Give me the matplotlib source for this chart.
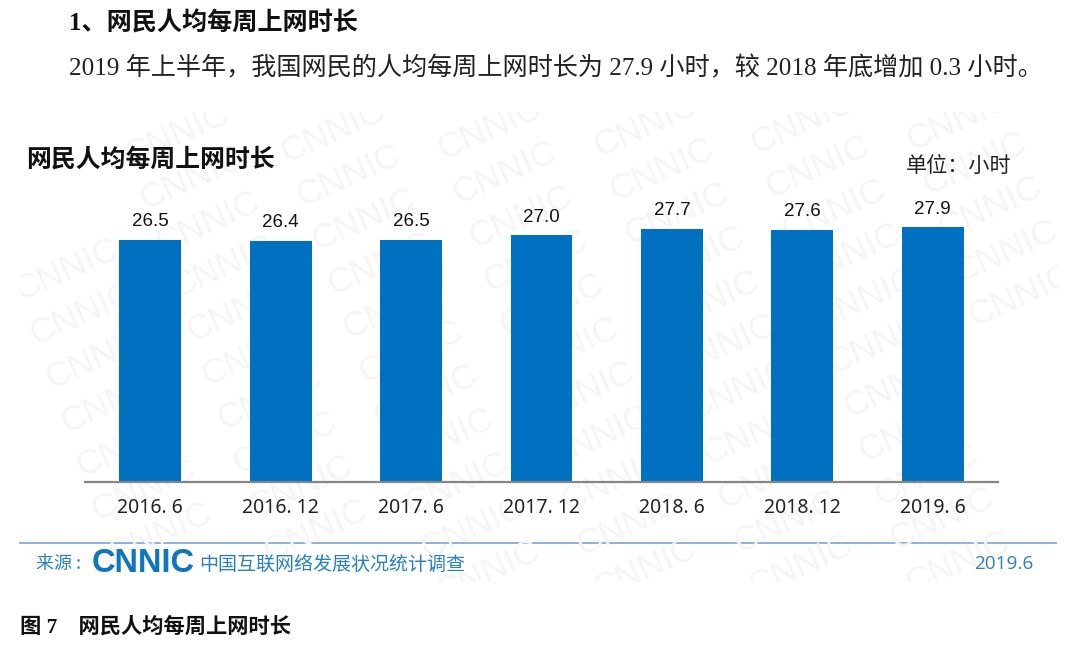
import matplotlib
matplotlib.use("Agg")
import matplotlib.pyplot as plt
from matplotlib.patches import Rectangle

W, H = 1080, 647
CJK = 'Noto Sans CJK SC'

categories = ['2016. 6', '2016. 12', '2017. 6', '2017. 12', '2018. 6', '2018. 12', '2019. 6']
values = [26.5, 26.4, 26.5, 27.0, 27.7, 27.6, 27.9]
value_labels = ['26.5', '26.4', '26.5', '27.0', '27.7', '27.6', '27.9']

heading = '1、网民人均每周上网时长'
paragraph = '2019 年上半年，我国网民的人均每周上网时长为 27.9 小时，较 2018 年底增加 0.3 小时。'
chart_title = '网民人均每周上网时长'
unit = '单位：小时'
source_prefix = '来源 :'
logo = 'CNNIC'
source_name = '中国互联网络发展状况统计调查'
source_date = '2019.6'
caption = '图 7　网民人均每周上网时长'

fig = plt.figure(figsize=(W / 100, H / 100), dpi=100, facecolor='white')

# page-level overlay in pixel coordinates (y pointing down)
page = fig.add_axes([0, 0, 1, 1], zorder=0)
page.set_xlim(0, W)
page.set_ylim(H, 0)
page.axis('off')

# watermark
clip = Rectangle((20, 112), 1038, 470, transform=page.transData, fc='none', ec='none')
page.add_patch(clip)
for i in range(-3, 9):
    for j in range(-1, 12):
        x = 20 + i * 156.5 + j * 15.5
        y = 132 + j * 44 - (i - 2) * 3
        if 52 < x < W - 52 and 118 < y < 575:
            t = page.text(x, y, logo, rotation=24, rotation_mode='anchor',
                          ha='center', va='center', fontsize=25, color='#f5f5f5',
                          family='Liberation Sans')
            t.set_clip_path(clip)
            t.set_clip_on(True)

# bars
ax = fig.add_axes([85 / W, 1 - 482 / H, 913 / W, 282 / H], zorder=1)
ax.patch.set_alpha(0)
bars = ax.bar(range(len(values)), values, width=0.475, color='#0070C0', zorder=2)
ax.set_xlim(-0.5, len(values) - 0.5)
ax.set_ylim(0, 282 / 9.13)
ax.set_yticks([])
ax.set_xticks(range(len(categories)))
ax.set_xticklabels(categories, fontsize=14, family='Noto Sans', color='#222222')
ax.tick_params(axis='x', length=0, pad=11.5)
for s in ['top', 'left', 'right']:
    ax.spines[s].set_visible(False)
ax.spines['bottom'].set_color('#868686')
ax.spines['bottom'].set_linewidth(1.6)
for rect, lab in zip(bars, value_labels):
    ax.annotate(lab, (rect.get_x() + rect.get_width() / 2, rect.get_height()),
                xytext=(0, 7), textcoords='offset points', ha='center', va='bottom',
                fontsize=13.5, family='Liberation Sans', color='#111111')

# text
serif = ['Liberation Serif', CJK]
page.text(69, 23, heading, fontsize=18.1, family=serif, fontweight='bold', va='center', color='#111111')
page.text(69, 68, paragraph, fontsize=18.1, family=serif, va='center', color='#222222')
page.text(26, 160, chart_title, fontsize=17.9, family=[CJK], fontweight='bold', va='center', color='#111111')
page.text(906, 167, unit, fontsize=15.2, family=[CJK], va='center', color='#222222')
page.plot([20, 1056], [543, 543], color='#8db0dc', lw=1.4)
page.text(36, 564, source_prefix, fontsize=13, family=[CJK, 'DejaVu Sans'], va='center', color='#2a7fc1')
page.text(92, 563, logo, fontsize=23.5, family='Liberation Sans', fontweight='bold', va='center', color='#0f75bc')
page.text(199, 564, source_name, fontsize=13.7, family=[CJK], va='center', color='#2a7fc1')
page.text(1033, 564, source_date, fontsize=13.7, family='Open Sans', va='center', ha='right', color='#2a7fc1')
page.text(20, 627, caption, fontsize=15.3, family=serif, fontweight='bold', va='center', color='#111111')

fig.savefig('out.png', dpi=100)
